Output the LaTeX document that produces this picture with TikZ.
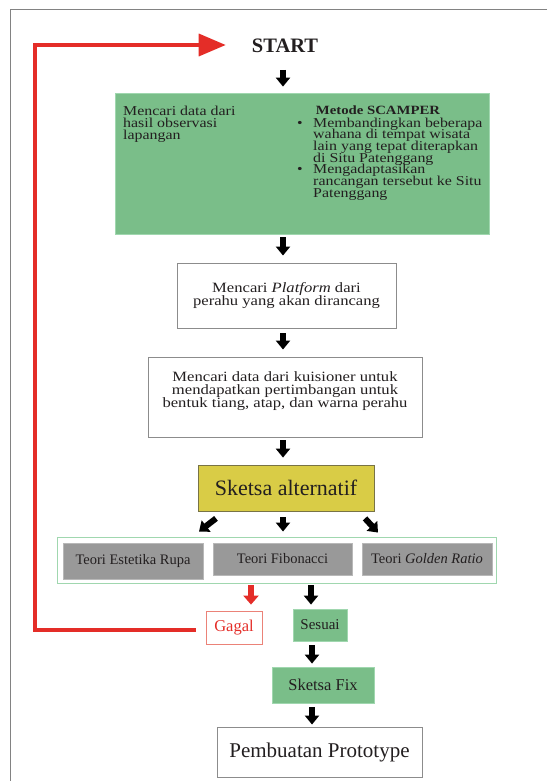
\documentclass[tikz,border=0pt]{standalone}
\usepackage{fontspec}
\setmainfont{Liberation Serif}
\newfontfamily\widefont{Liberation Serif}[FakeStretch=1.17]
\usetikzlibrary{arrows.meta,calc}
\definecolor{gfill}{RGB}{122,190,137}
\definecolor{gline}{RGB}{160,215,175}
\definecolor{yfill}{RGB}{217,204,70}
\definecolor{yline}{RGB}{120,115,70}
\definecolor{boxgray}{RGB}{153,153,153}
\definecolor{bgray}{RGB}{140,140,140}
\definecolor{framegray}{RGB}{130,130,130}
\definecolor{myred}{RGB}{228,45,40}
\definecolor{lred}{RGB}{235,130,120}
\definecolor{txt}{RGB}{35,31,32}
\newcommand{\fsg}{\widefont\fontsize{13.6}{11.7}\selectfont\lineskiplimit=-20pt\lineskip=0pt}
\newcommand{\fsb}{\widefont\fontsize{14.2}{13.3}\selectfont\lineskiplimit=-20pt\lineskip=0pt}
\newcommand{\fst}{\fontsize{14.5}{16}\selectfont}
\begin{document}
\begin{tikzpicture}[x=1pt,y=-1pt,
  blk/.style={draw=black, line width=6pt, -{Triangle[width=14pt,length=9pt]}},
  redblk/.style={draw=myred, line width=6pt, -{Triangle[width=15pt,length=9pt]}},
  redl/.style={draw=myred, line width=3.5pt, line join=miter, -{Triangle[width=22pt,length=27pt]}},
  wbox/.style={draw=bgray, line width=0.9pt, fill=white, inner sep=0pt, align=center, text=txt},
  gbox/.style={draw=gline, line width=0.8pt, fill=gfill, inner sep=0pt, align=center, text=txt},
  graybox/.style={draw=boxgray!70!white, line width=0.6pt, fill=boxgray, inner sep=0pt, align=center, text=txt, font=\fst},
  plain/.style={inner sep=0pt, text=txt}
]
\useasboundingbox (0,0) rectangle (547,781);
\fill[white] (0,0) rectangle (547,781);
% frame
\draw[framegray, line width=1pt] (547,10) -- (10,10) -- (10,781);

% nodes
\node[plain, font=\bfseries\fontsize{20.5}{24}\selectfont] (start) at (285,46) {START};

\node[gbox, minimum width=374pt, minimum height=141pt] (green) at (302,163.5) {};
\node[plain, anchor=north west, align=left, font=\fsg] (gleft) at (123,106) {Mencari data dari\\hasil observasi\\lapangan};
\node[plain, anchor=base, font=\widefont\bfseries\fontsize{12.6}{12}\selectfont] (scamper) at (378,114.5) {Metode SCAMPER};
\node[plain, anchor=north west, align=left, font=\fsg] (glist) at (297,117.5) {\makebox[16pt][l]{\textbullet}Membandingkan beberapa\\
\hspace*{16pt}wahana di tempat wisata\\
\hspace*{16pt}lain yang tepat diterapkan\\
\hspace*{16pt}di Situ Patenggang\\
\makebox[16pt][l]{\textbullet}Mengadaptasikan\\
\hspace*{16pt}rancangan tersebut ke Situ\\
\hspace*{16pt}Patenggang};

\node[wbox, minimum width=219pt, minimum height=65pt, font=\fsb] (box2) at (286.5,295.5) {Mencari \textit{Platform} dari\\perahu yang akan dirancang};

\node[wbox, minimum width=274pt, minimum height=80pt] (box3) at (285,397) {};
\node[plain, align=center, font=\fsb] (box3t) at (285,391) {Mencari data dari kuisioner untuk\\mendapatkan pertimbangan untuk\\bentuk tiang, atap, dan warna perahu};

\node[draw=yline, line width=0.8pt, fill=yfill, inner sep=0pt, text=txt, minimum width=176pt, minimum height=46pt, font=\fontsize{22}{24}\selectfont] (alt) at (286,488) {Sketsa alternatif};

\node[draw=gline, line width=0.9pt, fill=white, inner sep=0pt, minimum width=439pt, minimum height=46pt] (teori) at (276.5,560) {};
\node[graybox, minimum width=140pt, minimum height=36pt] (t1) at (133,561) {Teori Estetika Rupa};
\node[graybox, minimum width=139pt, minimum height=32pt] (t2) at (282.5,559) {Teori Fibonacci};
\node[graybox, minimum width=130pt, minimum height=32pt] (t3) at (427,559) {Teori \textit{Golden Ratio}};

\node[draw=lred, line width=0.8pt, fill=white, text=myred, inner sep=0pt, minimum width=56pt, minimum height=33pt, font=\fontsize{16.5}{18}\selectfont] (gagal) at (234,627.5) {Gagal};
\node[gbox, minimum width=54pt, minimum height=32pt, font=\fontsize{15}{17}\selectfont] (sesuai) at (320,625) {Sesuai};
\node[gbox, minimum width=102pt, minimum height=36pt, font=\fontsize{16.5}{18}\selectfont] (fix) at (323,685) {Sketsa Fix};
\node[wbox, minimum width=205pt, minimum height=50pt, font=\fontsize{21}{24}\selectfont] (proto) at (319.5,752) {Pembuatan Prototype};

% black arrows
\draw[blk] ([xshift=-2pt,yshift=-24pt]start.center) -- ([xshift=-19pt,yshift=6pt]green.north);
\draw[blk] ([xshift=-19pt,yshift=-3pt]green.south) -- ([xshift=-3.5pt,yshift=7pt]box2.north);
\draw[blk] ([xshift=-3.5pt,yshift=-5pt]box2.south) -- ([xshift=-2pt,yshift=7pt]box3.north);
\draw[blk] ([xshift=-2pt,yshift=-3pt]box3.south) -- ([xshift=-3pt,yshift=7pt]alt.north);
\draw[blk] ([xshift=-70pt,yshift=-7pt]alt.south) -- ([xshift=-77.5pt,yshift=5pt]teori.north);
\draw[blk] ([xshift=-3pt,yshift=-6pt]alt.south) -- ([xshift=6.5pt,yshift=5pt]teori.north);
\draw[blk] ([xshift=79pt,yshift=-7pt]alt.south) -- ([xshift=101.5pt,yshift=4pt]teori.north);
\draw[redblk] ([xshift=-25.5pt,yshift=-2pt]teori.south) -- ([xshift=17pt,yshift=6pt]gagal.north);
\draw[blk] ([xshift=34.5pt,yshift=-2pt]teori.south) -- ([xshift=-9pt,yshift=4pt]sesuai.north);
\draw[blk] ([xshift=-8pt,yshift=-4pt]sesuai.south) -- ([xshift=-11pt,yshift=3pt]fix.north);
\draw[blk] ([xshift=-11pt,yshift=-4pt]fix.south) -- ([xshift=-7.5pt,yshift=2pt]proto.north);

% red loop
\coordinate (c1) at (35,630);
\coordinate (c2) at (35,45);
\draw[redl, shorten <=10pt, shorten >=26pt] (c1 -| gagal.west) -- (c1) -- (c2) -- (c2 -| start.west);
\end{tikzpicture}
\end{document}
